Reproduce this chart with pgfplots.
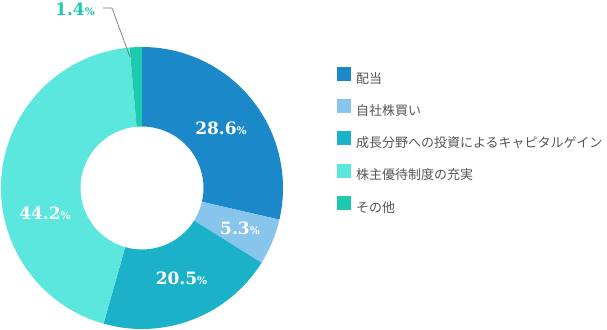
\documentclass[border=0pt]{standalone}
\usepackage{pgfplots}
\pgfplotsset{compat=1.18}
\usepackage{pgfplotstable}
\usepackage{fontspec}
\setmainfont{Noto Sans CJK JP}
\newfontfamily\numfont{DejaVu Serif}
\definecolor{cA}{HTML}{1B88C9}
\definecolor{cB}{HTML}{88C5EC}
\definecolor{cC}{HTML}{1BB1C9}
\definecolor{cD}{HTML}{5BE6DE}
\definecolor{cE}{HTML}{1DC9AF}
\definecolor{txt}{HTML}{555555}
\definecolor{lead}{HTML}{777777}

\pgfplotstableread{
share
28.6
5.3
20.5
44.2
1.4
}\shares
\pgfplotstablegetelem{0}{share}\of\shares \let\sA\pgfplotsretval
\pgfplotstablegetelem{1}{share}\of\shares \let\sB\pgfplotsretval
\pgfplotstablegetelem{2}{share}\of\shares \let\sC\pgfplotsretval
\pgfplotstablegetelem{3}{share}\of\shares \let\sD\pgfplotsretval
\pgfplotstablegetelem{4}{share}\of\shares \let\sE\pgfplotsretval
\pgfmathsetmacro\aA{90}
\pgfmathsetmacro\aB{\aA-3.6*\sA}
\pgfmathsetmacro\aC{\aB-3.6*\sB}
\pgfmathsetmacro\aD{\aC-3.6*\sC}
\pgfmathsetmacro\aE{\aD-3.6*\sD}
\pgfmathsetmacro\aF{\aE-3.6*\sE}

\pgfplotstableread{
x y lab
221 201 28.6
240 101 5.3
181.5 51 20.5
45 116 44.2
}\labels
\pgfplotstableread{
x y lab
75 320 1.4
}\smalllab

\newcommand\donutslice[3]{%
  \fill[#1,shift={(axis cs:142,141)}] (#2:141pt) arc[start angle=#2,end angle=#3,radius=141pt]
    -- (#3:61.5pt) arc[start angle=#3,end angle=#2,radius=61.5pt] -- cycle;}
\newcommand\pct[1]{{\numfont\bfseries\fontsize{17}{17}\selectfont #1{\fontsize{10.5}{10.5}\selectfont\%}}}

\begin{document}
\begin{tikzpicture}
\begin{axis}[
  scale only axis, width=607pt, height=329pt,
  xmin=0, xmax=607, ymin=0, ymax=329,
  hide axis, clip=false, xtick=\empty, ytick=\empty,
  legend image code/.code={\fill[#1,draw=none] (0pt,-2pt) rectangle (14pt,12pt);},
  legend style={at={(axis cs:337,262)}, anchor=north west, draw=none, fill=none,
    inner sep=0pt, outer sep=0pt, row sep=13.5pt, column sep=5pt,
    font=\fontsize{13}{13}\selectfont\color{txt},
    nodes={inner sep=0pt, text height=11pt, text depth=2.5pt, anchor=west}},
  legend cell align=left,
]
\coordinate (bl) at (rel axis cs:0,0);
\coordinate (tr) at (rel axis cs:1,1);
\donutslice{cA}{\aA}{\aB}
\donutslice{cB}{\aB}{\aC}
\donutslice{cC}{\aC}{\aD}
\donutslice{cD}{\aD}{\aE}
\donutslice{cE}{\aE}{\aF}
\addlegendimage{draw=none, fill=cA}
\addlegendentry{配当}
\addlegendimage{draw=none, fill=cB}
\addlegendentry{自社株買い}
\addlegendimage{draw=none, fill=cC}
\addlegendentry{成長分野への投資によるキャピタルゲイン}
\addlegendimage{draw=none, fill=cD}
\addlegendentry{株主優待制度の充実}
\addlegendimage{draw=none, fill=cE}
\addlegendentry{その他}
\addplot[lead, line width=0.7pt, forget plot] coordinates {(103,321) (112,321) (130,272)};
\addplot[only marks, mark=none, forget plot, point meta=explicit symbolic,
  nodes near coords={\pct{\pgfplotspointmeta}},
  every node near coord/.style={anchor=center, inner sep=0pt, text=white}]
  table[x=x, y=y, meta=lab] {\labels};
\addplot[only marks, mark=none, forget plot, point meta=explicit symbolic,
  nodes near coords={\pct{\pgfplotspointmeta}},
  every node near coord/.style={anchor=center, inner sep=0pt, text=cE}]
  table[x=x, y=y, meta=lab] {\smalllab};
\end{axis}
\pgfresetboundingbox
\path (bl) rectangle (tr);
\end{tikzpicture}
\end{document}
